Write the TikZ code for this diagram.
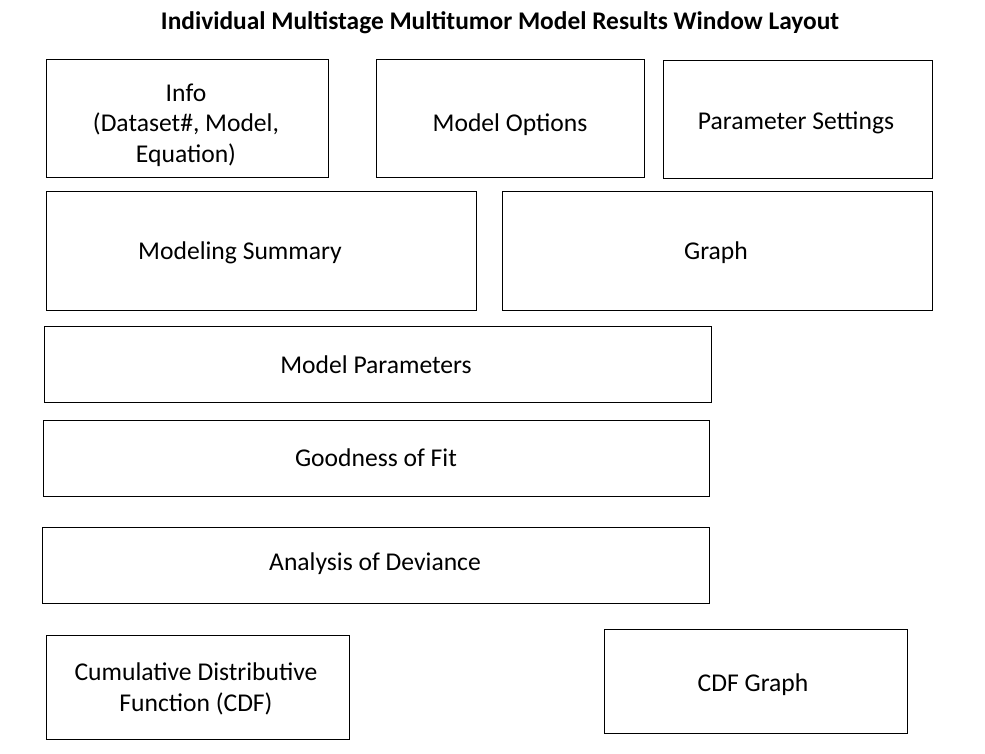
\documentclass[tikz,border=0pt]{standalone}
\usepackage{fontspec}
\setmainfont{Carlito}
\tikzset{
  panel/.style={draw, line width=0.9pt},
  label/.style={inner sep=0pt, align=center, font=\fontsize{25.6}{30.5}\selectfont},
  heading/.style={inner sep=0pt, font=\fontsize{25.4}{30}\selectfont\bfseries}
}
\begin{document}
\begin{tikzpicture}[x=1pt,y=1pt,yscale=-1]
\useasboundingbox (0,0) rectangle (985,753);
% Title
\node[heading] (title) at (500,23) {Individual Multistage Multitumor Model Results Window Layout};

% top row
\draw[panel] (46,59) rectangle (328,177);
\node[label] (info) at (186,125) {Info\\(Dataset\#, Model,\\Equation)};
\draw[panel] (376,59) rectangle (644,177);
\node[label] (options) at (510,125) {Model Options};
\draw[panel] (663,60) rectangle (932,178);
\node[label] (settings) at (796,123) {Parameter Settings};

% second row
\draw[panel] (46,191) rectangle (476,310);
\node[label] (summary) at (240,253) {Modeling Summary};
\draw[panel] (502,191) rectangle (932,310);
\node[label] (graph) at (716,253) {Graph};

% wide tables
\draw[panel] (44,326) rectangle (711,402);
\node[label] (params) at (376,365) {Model Parameters};
\draw[panel] (43,420) rectangle (709,496);
\node[label] (fit) at (376,458) {Goodness of Fit};
\draw[panel] (42,527) rectangle (709,603);
\node[label] (deviance) at (375,564) {Analysis of Deviance};

% bottom row
\draw[panel] (46,635) rectangle (349,739);
\node[label] (cdf) at (196,689) {Cumulative Distributive\\Function (CDF)};
\draw[panel] (604,629) rectangle (907,733);
\node[label] (cdfgraph) at (753,685) {CDF Graph};
\end{tikzpicture}
\end{document}
